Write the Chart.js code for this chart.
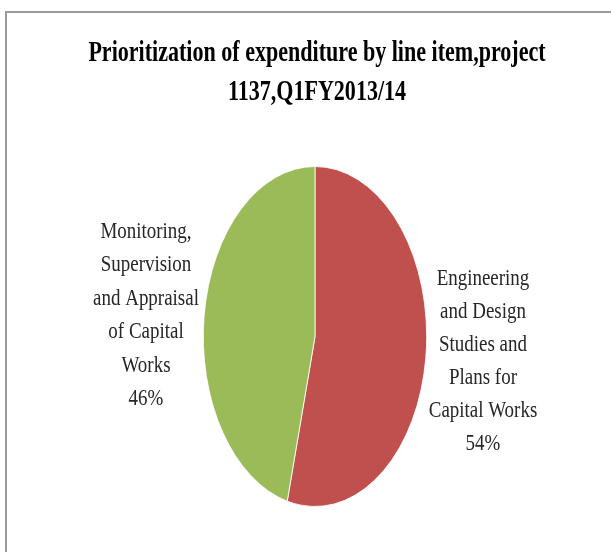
<!DOCTYPE html>
<html>
<head>
<meta charset="utf-8">
<script src="https://cdn.jsdelivr.net/npm/chart.js@4.4.1/dist/chart.umd.min.js"></script>
<style>
  html, body { margin: 0; padding: 0; background: #fff; overflow: hidden; }
  #grafico { display: block; }
</style>
</head>
<body>
<canvas id="grafico" width="611" height="552"></canvas>
<script>
var titleLines = ['Prioritization of expenditure by line item,project', '1137,Q1FY2013/14']
var categories = [
  ['Engineering', 'and Design', 'Studies and', 'Plans for', 'Capital Works'],
  ['Monitoring,', 'Supervision', 'and Appraisal', 'of Capital', 'Works']
]
var values = [54, 46]
var colors = ['#C0504D', '#9BBB59']

// the pie in the picture is squeezed sideways, so is the text
var pieSquash = 0.657
var titleSquash = 0.735
var labelSquash = 0.79

// where each label block sits, relative to the pie centre (first baseline)
var labelPos = [
  { dx: 168, dy: -52, step: 33 },
  { dx: -169, dy: -98.5, step: 33.4 }
]

function drawText(ctx, text, x, y, squash) {
  ctx.save()
  ctx.translate(x, y)
  ctx.scale(squash, 1)
  ctx.fillText(text, 0, 0)
  ctx.restore()
}

var squashPie = {
  id: 'squashPie',
  beforeDraw: function(chart) {
    var ctx = chart.ctx
    ctx.save()
    ctx.strokeStyle = '#9a9a9a'
    ctx.lineWidth = 2
    ctx.beginPath()
    ctx.moveTo(6, 552)
    ctx.lineTo(6, 12)
    ctx.lineTo(611, 12)
    ctx.stroke()
    ctx.restore()
  },
  beforeDatasetsDraw: function(chart) {
    var a = chart.chartArea
    var cx = (a.left + a.right) / 2
    var cy = (a.top + a.bottom) / 2
    var ctx = chart.ctx
    ctx.save()
    ctx.translate(cx, cy)
    ctx.scale(pieSquash, 1)
    ctx.translate(-cx, -cy)
  },
  afterDatasetsDraw: function(chart) {
    chart.ctx.restore()
  },
  afterDraw: function(chart) {
    var ctx = chart.ctx
    var a = chart.chartArea
    var cx = (a.left + a.right) / 2
    var cy = (a.top + a.bottom) / 2
    var total = values.reduce(function(s, v) { return s + v }, 0)

    ctx.save()
    ctx.textAlign = 'center'
    ctx.textBaseline = 'alphabetic'
    ctx.fillStyle = '#000'
    ctx.font = 'bold 30px "Liberation Serif", "Times New Roman", serif'
    drawText(ctx, titleLines[0], 317, 61, titleSquash)
    drawText(ctx, titleLines[1], 317, 100, titleSquash)

    ctx.fillStyle = '#262626'
    ctx.font = '24px "Liberation Serif", "Times New Roman", serif'
    categories.forEach(function(lines, i) {
      var p = labelPos[i]
      var all = lines.concat([Math.round(values[i] / total * 100) + '%'])
      all.forEach(function(t, j) {
        drawText(ctx, t, cx + p.dx, cy + p.dy + j * p.step, labelSquash)
      })
    })
    ctx.restore()
  }
}

new Chart(document.getElementById('grafico'), {
  type: 'pie',
  data: {
    labels: categories.map(function(c) { return c.join(' ') }),
    datasets: [{
      data: values,
      backgroundColor: colors,
      borderColor: '#ffffff',
      borderWidth: 1
    }]
  },
  options: {
    responsive: false,
    animation: false,
    devicePixelRatio: 1,
    layout: {
      padding: { top: 166, bottom: 45, left: 100, right: 81 }
    },
    plugins: {
      legend: { display: false },
      title: { display: false },
      tooltip: { enabled: false }
    }
  },
  plugins: [squashPie]
})
</script>
</body>
</html>
